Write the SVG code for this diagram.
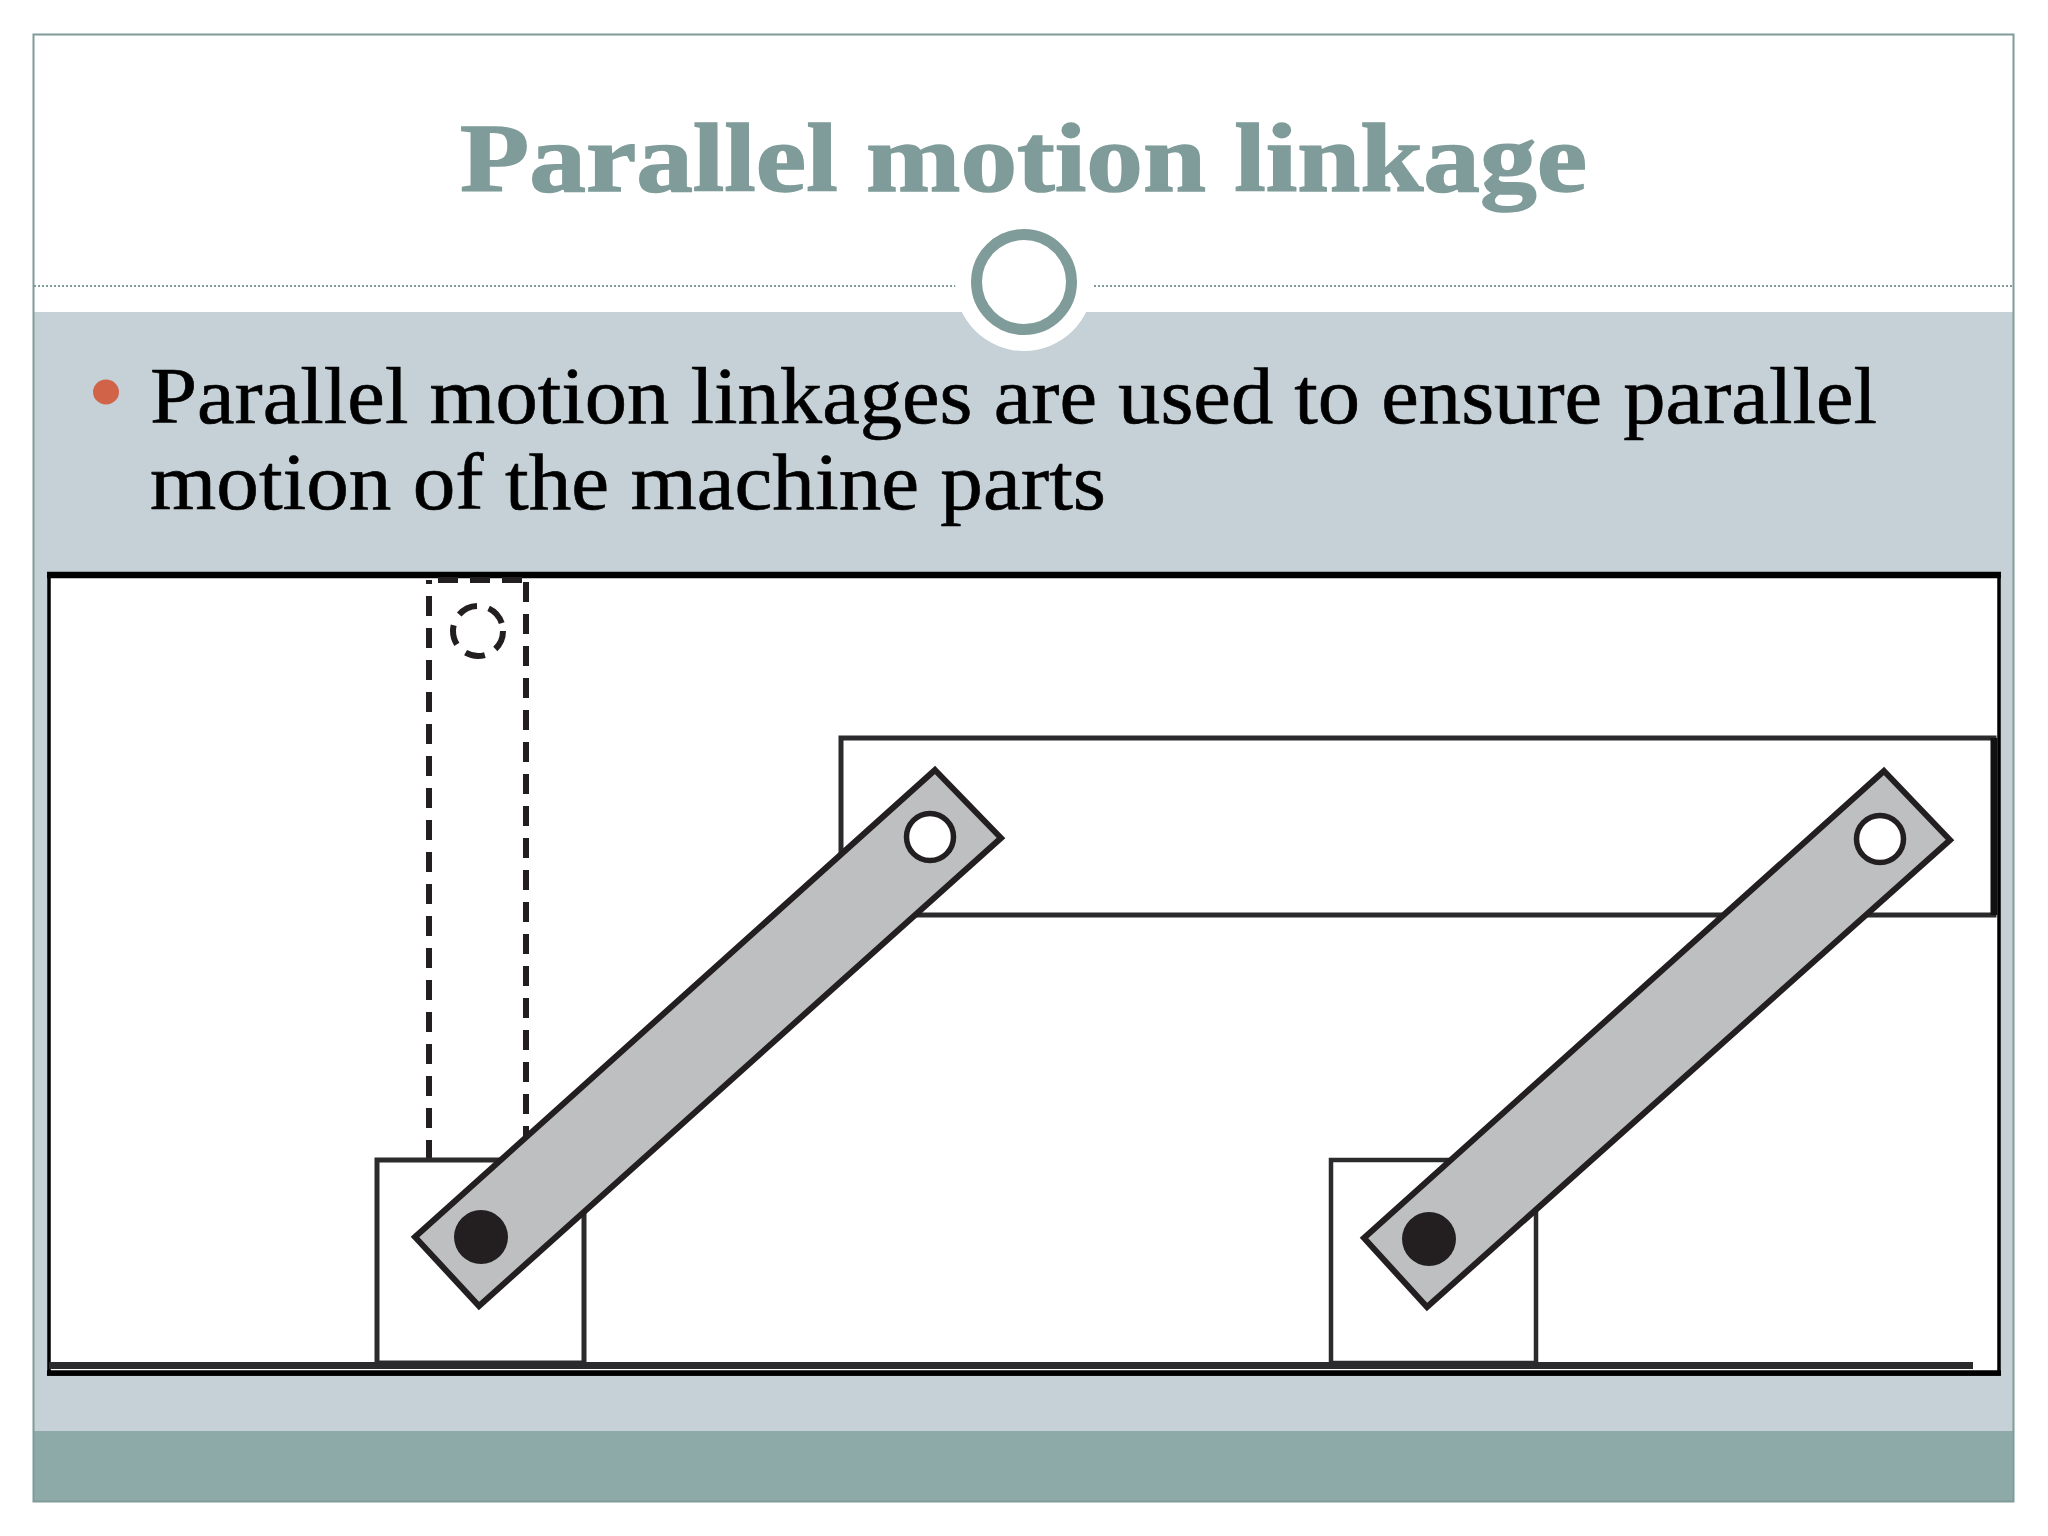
<svg xmlns="http://www.w3.org/2000/svg" width="2048" height="1536" viewBox="0 0 2048 1536">
<style>
.ln{fill:#fff;stroke:#2b2b2d;stroke-width:5}
.link{fill:#bdbfc1;stroke:#231f20;stroke-width:6;stroke-linejoin:miter}
.hole{fill:#fff;stroke:#231f20;stroke-width:5.5}
.pin{fill:#231f20}
.dash{fill:none;stroke:#231f20;stroke-width:6;stroke-dasharray:20 12}
.title{font-family:"Liberation Serif","DejaVu Serif",serif;font-weight:700;font-size:98px;fill:#7f9c9a;stroke:#7f9c9a;stroke-width:1.5}
.body{font-family:"Liberation Serif","DejaVu Serif",serif;font-size:80px;fill:#000;stroke:#000;stroke-width:.6}
</style>
<rect width="2048" height="1536" fill="#fff"/>
<g id="slide">
<rect x="33" y="312" width="1981" height="1119" fill="#c5d1d6"/>
<rect x="33" y="1431" width="1981" height="71" fill="#8daaa9"/>
<rect x="33.5" y="34.5" width="1980" height="1467" fill="none" stroke="#7f9c9a" stroke-width="2"/>
<line x1="34" y1="286" x2="2013" y2="286" stroke="#7f9c9a" stroke-width="2" stroke-dasharray="2 2"/>
<circle cx="1024" cy="282" r="69" fill="#fff"/>
<circle cx="1024" cy="282" r="47.5" fill="#fff" stroke="#7f9c9a" stroke-width="11"/>
</g>
<g id="title"><text class="title" x="460" y="191" textLength="1127" lengthAdjust="spacingAndGlyphs">Parallel motion linkage</text></g>
<g id="bullets">
<ellipse cx="106" cy="392" rx="13" ry="12.5" fill="#d16349"/>
<text class="body" x="150" y="423" textLength="1727" lengthAdjust="spacingAndGlyphs">Parallel motion linkages are used to ensure parallel</text>
<text class="body" x="150" y="509" textLength="956" lengthAdjust="spacingAndGlyphs">motion of the machine parts</text>
</g>
<g id="picture">
<rect x="49" y="575" width="1950" height="799" fill="#fff" stroke="#000" stroke-width="3.5"/>
<line x1="47" y1="575" x2="2001" y2="575" stroke="#000" stroke-width="6.5"/>
<line x1="47" y1="1373" x2="2001" y2="1373" stroke="#000" stroke-width="5.5"/>
</g>
<g id="connectors">
<line class="dash" x1="429" y1="1160" x2="429" y2="580"/>
<line class="dash" x1="526" y1="1146" x2="526" y2="580"/>
<line class="dash" x1="438" y1="580" x2="528" y2="580" stroke-dasharray="21 16"/>
<circle class="dash" cx="478" cy="631" r="25" stroke-dasharray="17 12" stroke-width="4.5"/>
<line x1="49" y1="1365.5" x2="1973" y2="1365.5" stroke="#2b2b2d" stroke-width="7"/>
</g>
<g id="top-bar">
<rect class="ln" x="841" y="738" width="1153" height="177"/>
<line x1="1994" y1="738" x2="1994" y2="915" stroke="#111" stroke-width="7"/>
</g>
<g id="block-left"><rect class="ln" x="377" y="1160" width="207" height="203"/></g>
<g id="block-right"><rect class="ln" x="1331" y="1160" width="205" height="203" style="stroke-width:4.5"/></g>
<g id="link-left">
<polygon class="link" points="935,770 1001,838 479,1306 415,1237"/>
<circle class="hole" cx="930" cy="837" r="23.5"/>
<circle class="pin" cx="481" cy="1237" r="27"/>
</g>
<g id="link-right">
<polygon class="link" points="1884,771 1950,840 1427,1307 1364,1238"/>
<circle class="hole" cx="1880" cy="839" r="23.5"/>
<circle class="pin" cx="1429" cy="1239" r="27"/>
</g>
</svg>
